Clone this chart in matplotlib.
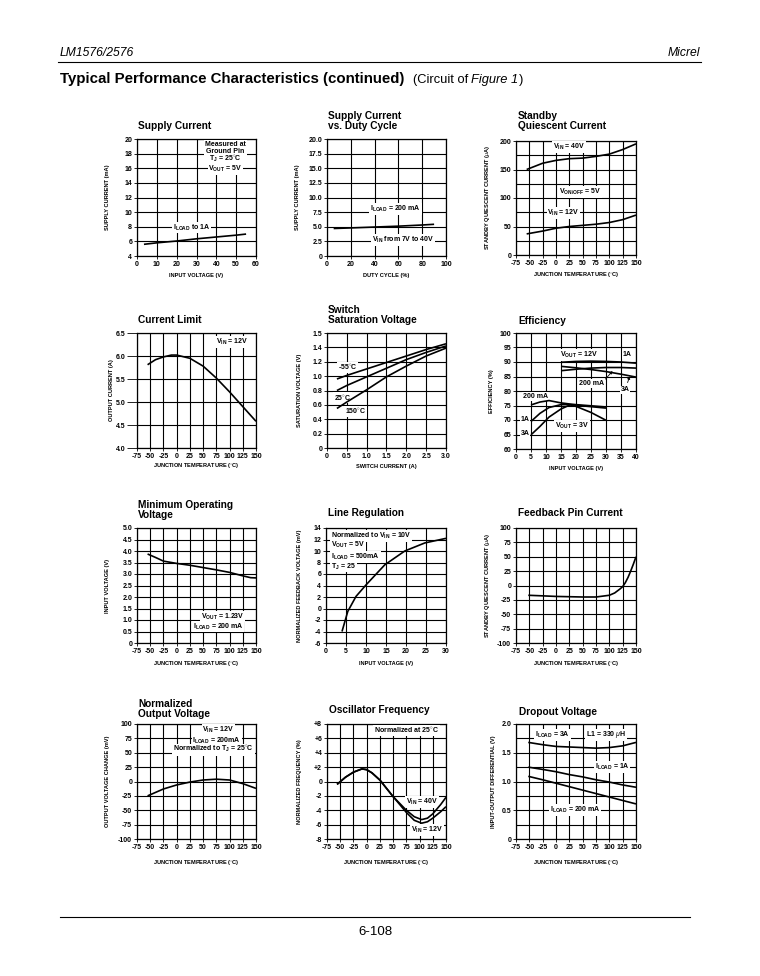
import matplotlib
matplotlib.use("Agg")
import matplotlib.pyplot as plt
import numpy as np

plt.rcParams['font.family'] = ['Liberation Sans', 'DejaVu Sans']
plt.rcParams['mathtext.fontset'] = 'custom'
plt.rcParams['mathtext.rm'] = 'Liberation Sans:bold'
plt.rcParams['mathtext.it'] = 'Liberation Sans:italic'
plt.rcParams['mathtext.bf'] = 'Liberation Sans:bold'

# --- data ---
# Supply Current
sc_vin = [3.5, 10, 20, 30, 40, 50, 55]
sc_ma = [5.6, 5.8, 6.05, 6.35, 6.6, 6.85, 7.0]
# Supply Current vs. Duty Cycle
dc_pct = [5.6, 20, 40, 60, 80, 90]
dc_ma = [4.7, 4.8, 4.95, 5.1, 5.3, 5.42]
# Standby Quiescent Current
sq_temp = [-55, -25, 0, 25, 50, 75, 100, 125, 150]
sq_40v = [150, 161, 166, 169, 170, 173, 177, 185, 195]
sq_12v = [37, 42, 47, 50, 52, 54, 57, 62, 70]
# Current Limit
cl_temp = [-55, -40, -25, -10, 0, 25, 50, 75, 100, 125, 150]
cl_amp = [5.81, 5.92, 5.98, 6.02, 6.02, 5.95, 5.78, 5.52, 5.22, 4.9, 4.58]
# Switch Saturation Voltage
ss_amp = [0.25, 0.5, 1.0, 1.5, 2.0, 2.5, 3.0]
ss_m55 = [0.96, 1.01, 1.10, 1.19, 1.28, 1.37, 1.45]
ss_25 = [0.80, 0.87, 0.99, 1.11, 1.23, 1.33, 1.42]
ss_150 = [0.55, 0.64, 0.81, 0.99, 1.14, 1.28, 1.39]
# Efficiency
ef_vin12 = [15, 20, 25, 30, 35, 40]
ef_12_1a = [89.9, 90.2, 90.3, 90.2, 90.0, 89.6]
ef_12_3a = [88.5, 88.0, 87.4, 86.7, 85.8, 84.8]
ef_12_200 = [87.0, 87.5, 87.9, 88.1, 88.1, 87.9]
ef_vin3 = [5, 8, 11, 15, 18, 20, 25, 30]
ef_3_200 = [75.2, 76.2, 76.7, 75.9, 75.5, 75.3, 74.9, 74.5]
ef_3_1a = [69.5, 72.3, 74.3, 75.3, 75.3, 75.1, 74.6, 74.1]
ef_3_3a = [64.9, 67.8, 71.0, 73.8, 75.2, 74.7, 72.6, 69.9]
# Minimum Operating Voltage
mo_temp = [-55, -40, -25, 0, 25, 50, 75, 100, 125, 140, 150]
mo_volt = [3.87, 3.72, 3.56, 3.46, 3.38, 3.28, 3.18, 3.07, 2.92, 2.84, 2.83]
# Line Regulation
lr_vin = [4.0, 5.45, 7.5, 10, 14.7, 19.7, 24.7, 30]
lr_mv = [-4.0, -0.5, 2.1, 4.1, 7.6, 10.0, 11.4, 12.2]
# Feedback Pin Current
fb_temp = [-52, -25, 0, 25, 50, 75, 100, 110, 120, 125, 130, 135, 140, 145, 150]
fb_ua = [-17, -18, -19, -19.5, -20, -20, -17, -13, -6, -2, 5, 14, 25, 37, 50]
# Normalized Output Voltage
nv_temp = [-55, -25, 0, 25, 50, 75, 100, 125, 150]
nv_mv = [-25, -13, -6, -1, 2.6, 4, 2.6, -3.7, -12]
# Oscillator Frequency
of_temp = [-56, -40, -25, -9, 0, 10, 25, 50, 75, 90, 104, 115, 125, 140, 150]
of_40v = [-0.4, 0.6, 1.3, 1.75, 1.65, 1.2, 0.2, -2.1, -4.0, -4.9, -5.3, -5.1, -4.5, -3.2, -2.2]
of_12v = [-0.4, 0.6, 1.3, 1.75, 1.65, 1.2, 0.2, -2.1, -4.3, -5.4, -5.8, -5.6, -5.1, -4.2, -3.5]
# Dropout Voltage
do_temp = [-52, -25, 0, 25, 50, 75, 100, 125, 150]
do_3a = [1.68, 1.64, 1.61, 1.60, 1.59, 1.58, 1.59, 1.62, 1.68]
do_1a = [1.25, 1.21, 1.17, 1.12, 1.08, 1.03, 0.99, 0.94, 0.90]
do_200 = [1.09, 1.03, 0.97, 0.91, 0.85, 0.79, 0.73, 0.67, 0.61]

temp_ticks = [-75, -50, -25, 0, 25, 50, 75, 100, 125, 150]
temp_labels = ['-75', '-50', '-25', '0', '25', '50', '75', '100', '125', '150']

W, H = 760, 976
fig = plt.figure(figsize=(W / 100, H / 100), dpi=100)
fig.patch.set_facecolor('white')


def box(l, t, r, b):
    return [l / W, 1 - b / H, (r - l) / W, (b - t) / H]


def ftext(x, y, s, **kw):
    return fig.text(x / W, 1 - y / H, s, **kw)


def panel(rect, xlim, xticks, xlabels, ylim, yticks, ylabels, xlabel, ylabel,
          ylab_x, xlab_y, title, title_x, title_y, ygrid=None):
    ax = fig.add_axes(box(*rect))
    ax.set_xlim(*xlim)
    ax.set_ylim(*ylim)
    ax.set_xticks(xticks)
    ax.set_xticklabels(xlabels, fontsize=5.0, fontweight='bold')
    ax.set_yticks(yticks)
    ax.set_yticklabels(ylabels, fontsize=5.0, fontweight='bold')
    ax.tick_params(length=2, width=0.6, pad=1.5)
    for x in xticks:
        ax.axvline(x, color='black', lw=0.8, zorder=1)
    for y in (ygrid if ygrid is not None else yticks):
        ax.axhline(y, color='black', lw=0.8, zorder=1)
    for s in ax.spines.values():
        s.set_linewidth(0.9)
    l, t, r, b = rect
    ftext((l + r) / 2, xlab_y, xlabel, ha='center', va='center', fontsize=4.1, fontweight='bold')
    ftext(ylab_x, (t + b) / 2, ylabel, ha='center', va='center', rotation=90,
          fontsize=4.1, fontweight='bold')
    ftext(title_x, title_y, title, ha='left', va='baseline', fontsize=7.3,
          fontweight='bold', linespacing=0.95)
    return ax


def note(ax, x, y, s, ha='center', ls=1.2):
    ax.text(x, y, s, ha=ha, va='center', fontsize=5.0, fontweight='bold', zorder=3,
            linespacing=ls, bbox=dict(fc='white', ec='none', pad=0.6))


def curve(ax, x, y):
    ax.plot(x, y, color='black', lw=1.2, zorder=4, solid_capstyle='butt')


# --- page header / footer ---
ftext(60, 56, 'LM1576/2576', fontsize=8.7, style='italic', va='baseline')
ftext(700, 56, 'Micrel', fontsize=8.7, style='italic', va='baseline', ha='right')
fig.add_artist(plt.Line2D([58 / W, 701 / W], [1 - 62 / H, 1 - 62 / H], color='black', lw=0.8))
ftext(60, 83, 'Typical Performance Characteristics (continued)', fontsize=10.8,
      fontweight='bold', va='baseline')
rend = fig.canvas.get_renderer()
t1 = ftext(413, 83, '(Circuit of', fontsize=9.3, va='baseline')
x1 = t1.get_window_extent(rend).x1 + 3
t2 = fig.text(x1 / W, 1 - 83 / H, 'Figure 1', fontsize=9.3, style='italic', va='baseline')
x2 = t2.get_window_extent(rend).x1 + 0.5
fig.text(x2 / W, 1 - 83 / H, ')', fontsize=9.3, va='baseline')
fig.add_artist(plt.Line2D([60 / W, 690 / W], [1 - 917 / H, 1 - 917 / H], color='black', lw=0.8))
ftext(375, 935, '6-108', fontsize=9.5, ha='center', va='baseline')

# --- row 1 ---
ax = panel((137, 139, 256, 256), (0, 60), range(0, 61, 10), [str(v) for v in range(0, 61, 10)],
           (4, 20), range(4, 21, 2), [str(v) for v in range(4, 21, 2)],
           'INPUT VOLTAGE (V)', 'SUPPLY CURRENT (mA)', 107, 276,
           'Supply Current', 138, 129)
curve(ax, sc_vin, sc_ma)
note(ax, 44.5, 18.75, 'Measured at\nGround Pin', ls=0.95)
note(ax, 44.5, 17.25, r'T$_{\rm J}$ = 25$^{\circ}$C')
note(ax, 44.5, 15.9, r'V$_{\rm OUT}$ = 5V')
note(ax, 27.4, 7.9, r'I$_{\rm LOAD}$ to 1A')

ax = panel((327, 139, 446, 256), (0, 100), range(0, 101, 20), [str(v) for v in range(0, 101, 20)],
           (0, 20), np.arange(0, 20.1, 2.5), ['0'] + ['%.1f' % v for v in np.arange(2.5, 20.1, 2.5)],
           'DUTY CYCLE (%)', 'SUPPLY CURRENT (mA)', 297, 276,
           'Supply Current\nvs. Duty Cycle', 328, 129)
curve(ax, dc_pct, dc_ma)
note(ax, 57.7, 8.0, r'I$_{\rm LOAD}$ = 200 mA')
note(ax, 63.7, 2.7, r'V$_{\rm IN}$ from 7V to 40V')

ax = panel((516, 141, 636, 255), (-75, 150), temp_ticks, temp_labels,
           (0, 200), range(0, 201, 50), [str(v) for v in range(0, 201, 50)],
           'JUNCTION TEMPERATURE ($^{\circ}$C)', r'STANDBY QUIESCENT CURRENT ($\mu$A)', 487, 275,
           'Standby\nQuiescent Current', 518, 129, ygrid=range(0, 201, 25))
curve(ax, sq_temp, sq_40v)
curve(ax, sq_temp, sq_12v)
note(ax, 23.7, 189.5, r'V$_{\rm IN}$ = 40V')
note(ax, 45, 110, r'V$_{\rm ON/OFF}$ = 5V')
note(ax, 14, 73, r'V$_{\rm IN}$ = 12V')

# --- row 2 ---
ax = panel((137, 333, 256, 448), (-75, 150), temp_ticks, temp_labels,
           (4.0, 6.5), np.arange(4.0, 6.51, 0.5), ['%.1f' % v for v in np.arange(4.0, 6.51, 0.5)],
           'JUNCTION TEMPERATURE ($^{\circ}$C)', 'OUTPUT CURRENT (A)', 111, 466,
           'Current Limit', 138, 323)
ax.tick_params(axis='y', length=7)
curve(ax, cl_temp, cl_amp)
note(ax, 104.6, 6.3, r'V$_{\rm IN}$ = 12V')

ax = panel((327, 333, 446, 448), (0, 3.0), np.arange(0, 3.01, 0.5), ['0'] + ['%.1f' % v for v in np.arange(0.5, 3.01, 0.5)],
           (0, 1.6), list(np.arange(0, 1.41, 0.2)) + [1.6], ['0'] + ['%.1f' % v for v in np.arange(0.2, 1.41, 0.2)] + ['1.5'],
           'SWITCH CURRENT (A)', 'SATURATION VOLTAGE (V)', 300, 467,
           'Switch\nSaturation Voltage', 328, 323)
curve(ax, ss_amp, ss_m55)
curve(ax, ss_amp, ss_25)
curve(ax, ss_amp, ss_150)
note(ax, 0.27, 1.12, r'-55$^{\circ}$C', ha='left')
note(ax, 0.17, 0.70, r'25$^{\circ}$C', ha='left')
note(ax, 0.46, 0.51, r'150$^{\circ}$C', ha='left')

ax = panel((516, 333, 636, 449), (0, 40), range(0, 41, 5), [str(v) for v in range(0, 41, 5)],
           (60, 100), range(60, 101, 5), [str(v) for v in range(60, 101, 5)],
           'INPUT VOLTAGE (V)', 'EFFICIENCY (%)', 492, 468,
           'Efficiency', 518, 324)
for yy in (ef_12_1a, ef_12_3a, ef_12_200):
    curve(ax, ef_vin12, yy)
for yy in (ef_3_200, ef_3_1a, ef_3_3a):
    curve(ax, ef_vin3, yy)
note(ax, 21, 92.5, r'V$_{\rm OUT}$ = 12V')
note(ax, 37, 92.6, '1A')
note(ax, 25.2, 82.5, '200 mA')
note(ax, 36.3, 80.4, '3A')
note(ax, 6.4, 78.2, '200 mA')
note(ax, 3, 70.3, '1A')
note(ax, 3, 65.3, '3A')
note(ax, 18.6, 67.9, r'V$_{\rm OUT}$ = 3V')
ax.annotate('', xy=(32.8, 87.6), xytext=(29.2, 83.4),
            arrowprops=dict(arrowstyle='-|>', color='black', lw=0.6, mutation_scale=4), zorder=5)
ax.annotate('', xy=(38.2, 86.0), xytext=(36.9, 82.0),
            arrowprops=dict(arrowstyle='-|>', color='black', lw=0.6, mutation_scale=4), zorder=5)

# --- row 3 ---
ax = panel((137, 528, 256, 643), (-75, 150), temp_ticks, temp_labels,
           (0, 5.0), np.arange(0, 5.01, 0.5), ['0'] + ['%.1f' % v for v in np.arange(0.5, 5.01, 0.5)],
           'JUNCTION TEMPERATURE ($^{\circ}$C)', 'INPUT VOLTAGE (V)', 107, 664,
           'Minimum Operating\nVoltage', 138, 518)
curve(ax, mo_temp, mo_volt)
note(ax, 87, 1.15, r'V$_{\rm OUT}$ = 1.23V')
note(ax, 78, 0.72, r'I$_{\rm LOAD}$ = 200 mA')

ax = panel((326, 528, 446, 643), (0, 30), range(0, 31, 5), [str(v) for v in range(0, 31, 5)],
           (-6, 14), range(-6, 15, 2), [str(v) for v in range(-6, 15, 2)],
           'INPUT VOLTAGE (V)', 'NORMALIZED FEEDBACK VOLTAGE (mV)', 300, 664,
           'Line Regulation', 328, 516)
curve(ax, lr_vin, lr_mv)
note(ax, 1.3, 12.6, r'Normalized to V$_{\rm IN}$ = 10V', ha='left')
note(ax, 1.3, 11.0, r'V$_{\rm OUT}$ = 5V', ha='left')
note(ax, 1.3, 9.0, r'I$_{\rm LOAD}$ = 500mA', ha='left')
note(ax, 1.3, 7.3, r'T$_{\rm J}$ = 25', ha='left')

ax = panel((516, 528, 636, 643), (-75, 150), temp_ticks, temp_labels,
           (-100, 100), range(-100, 101, 25), [str(v) for v in range(-100, 101, 25)],
           'JUNCTION TEMPERATURE ($^{\circ}$C)', r'STANDBY QUIESCENT CURRENT ($\mu$A)', 487, 664,
           'Feedback Pin Current', 518, 516)
curve(ax, fb_temp, fb_ua)

# --- row 4 ---
ax = panel((137, 724, 256, 839), (-75, 150), temp_ticks, temp_labels,
           (-100, 100), range(-100, 101, 25), [str(v) for v in range(-100, 101, 25)],
           'JUNCTION TEMPERATURE ($^{\circ}$C)', 'OUTPUT VOLTAGE CHANGE (mV)', 107, 863,
           'Normalized\nOutput Voltage', 138, 717)
curve(ax, nv_temp, nv_mv)
note(ax, 79, 89, r'V$_{\rm IN}$ = 12V')
note(ax, 76, 71, r'I$_{\rm LOAD}$ = 200mA')
note(ax, 69.5, 55, r'Normalized to T$_{\rm J}$ = 25$^{\circ}$C')

ax = panel((327, 724, 446, 839), (-75, 150), temp_ticks, temp_labels,
           (-8, 8), range(-8, 9, 2), ['-8', '-6', '-4', '-2', '0', '+2', '+4', '+6', '+8'],
           'JUNCTION TEMPERATURE ($^{\circ}$C)', 'NORMALIZED FREQUENCY (%)', 300, 863,
           'Oscillator Frequency', 329, 713)
curve(ax, of_temp, of_40v)
curve(ax, of_temp, of_12v)
note(ax, 76, 7.1, r'Normalized at 25$^{\circ}$C')
note(ax, 105, -2.9, r'V$_{\rm IN}$ = 40V')
note(ax, 113.6, -6.7, r'V$_{\rm IN}$ = 12V')

ax = panel((516, 724, 636, 839), (-75, 150), temp_ticks, temp_labels,
           (0, 2.0), np.arange(0, 2.01, 0.5), ['0', '0.5', '1.0', '1.5', '2.0'],
           'JUNCTION TEMPERATURE ($^{\circ}$C)', 'INPUT-OUTPUT DIFFERENTIAL (V)', 494, 863,
           'Dropout Voltage', 519, 715, ygrid=np.arange(0, 2.01, 0.25))
curve(ax, do_temp, do_3a)
curve(ax, do_temp, do_1a)
curve(ax, do_temp, do_200)
note(ax, -6.4, 1.81, r'I$_{\rm LOAD}$ = 3A')
note(ax, 93.6, 1.81, r'L1 = 330 $\mu$H')
note(ax, 105, 1.25, r'I$_{\rm LOAD}$ = 1A')
note(ax, 36, 0.50, r'I$_{\rm LOAD}$ = 200 mA')

fig.savefig('out.png', dpi=100, facecolor='white')
